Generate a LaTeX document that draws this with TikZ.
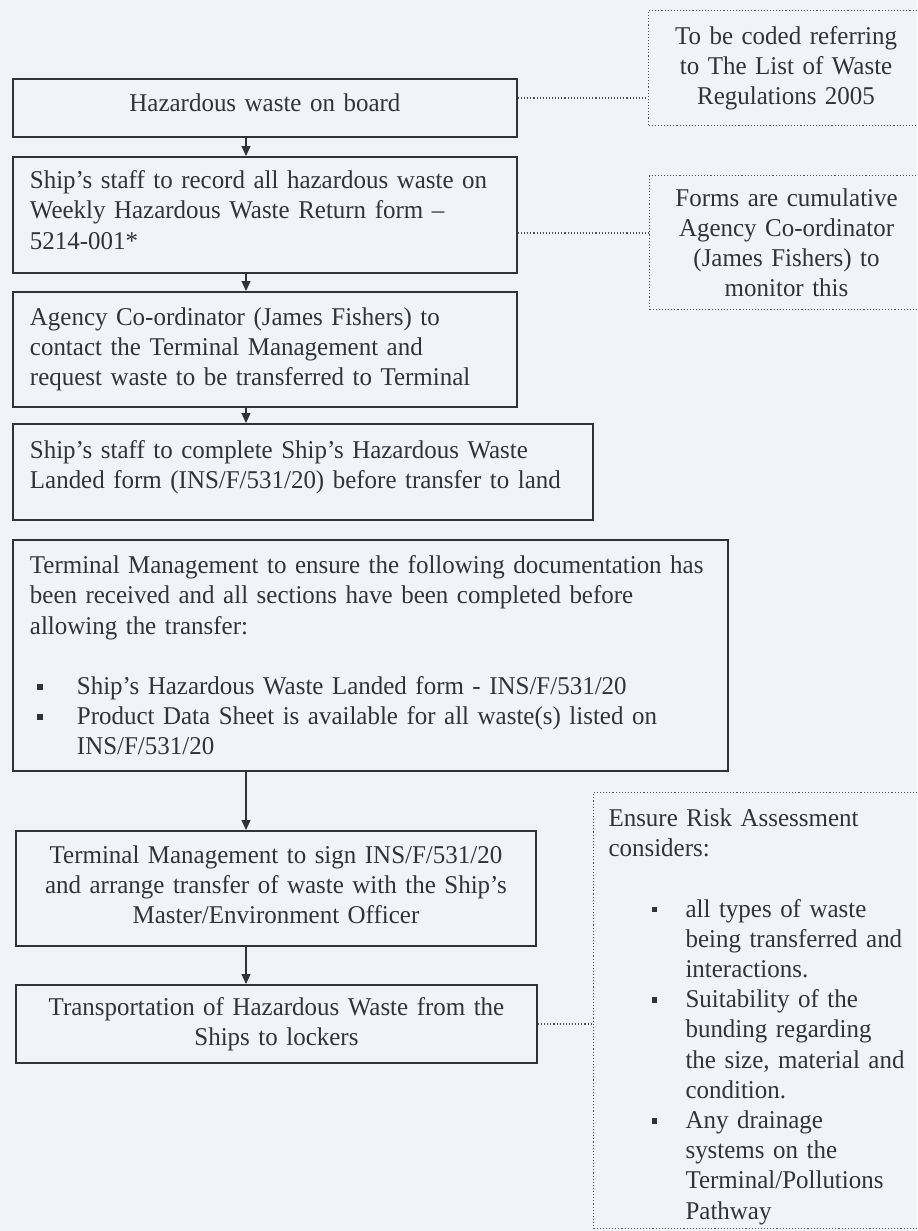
\documentclass[tikz,border=0pt]{standalone}
\usepackage{fontspec}
\setmainfont[FakeStretch=0.975]{Liberation Serif}
\usetikzlibrary{arrows.meta, positioning, calc}

\definecolor{paper}{RGB}{242,243,248}
\definecolor{ink}{RGB}{50,50,56}

% small square bullet
\newcommand{\sqbul}{\rule[2.4pt]{2.8pt}{2.8pt}}

\begin{document}
\begin{tikzpicture}[x=0.5pt, y=-0.5pt,
      font=\fontsize{12.8}{15.1}\selectfont, text=ink,
      stepbox/.style={rectangle, draw=ink, line width=0.95pt, inner xsep=8.5pt, inner ysep=0pt, anchor=north west},
      notebox/.style={rectangle, draw=ink!85, densely dotted, line width=0.55pt, inner xsep=7.5pt, inner ysep=0pt, anchor=north west},
      arrow/.style={-{Triangle[width=4.5pt,length=5pt]}, line width=0.6pt, draw=ink},
      link/.style={densely dotted, line width=0.55pt, draw=ink!85}
    ]
    \fill[paper] (0,0) rectangle (917,1231);
    \useasboundingbox (0,0) rectangle (917,1231);

    \coordinate (ax) at (246,0);

    % main steps
    \node[stepbox, text width=235pt, minimum height=29pt, align=center] (board) at (12,78) {Hazardous waste on board\\[-10pt]\mbox{}};
    \node[stepbox, text width=235pt, minimum height=58pt, align=left] (record) at (12,156)
      {Ship's staff to record all hazardous waste on\\Weekly Hazardous Waste Return form --\\5214-001*\\[-10pt]\mbox{}};
    \node[stepbox, text width=235pt, minimum height=57.5pt, align=left] (contact) at (12,291)
      {Agency Co-ordinator (James Fishers) to\\contact the Terminal Management and\\request waste to be transferred to Terminal};
    \node[stepbox, text width=273pt, minimum height=48pt, align=left] (landed) at (12,423)
      {Ship's staff to complete Ship's Hazardous Waste\\Landed form (INS/F/531/20) before transfer to land\\[-8pt]\mbox{}};
    \node[stepbox, text width=340.5pt, minimum height=115.5pt, align=left] (docs) at (12,539)
      {Terminal Management to ensure the following documentation has\\been received and all sections have been completed before\\allowing the transfer:\\[15.1pt]
       \hspace*{3.5pt}\makebox[20pt][l]{\sqbul}Ship's Hazardous Waste Landed form - INS/F/531/20\\
       \hspace*{3.5pt}\makebox[20pt][l]{\sqbul}Product Data Sheet is available for all waste(s) listed on\\
       \hspace*{23.5pt}INS/F/531/20};
    \node[stepbox, text width=243pt, minimum height=57.5pt, align=center] (sign) at (15,830)
      {Terminal Management to sign INS/F/531/20\\and arrange transfer of waste with the Ship's\\Master/Environment Officer\\[-11pt]\mbox{}};
    \node[stepbox, text width=243.5pt, minimum height=39pt, align=center] (lockers) at (15,984)
      {Transportation of Hazardous Waste from the\\Ships to lockers};

    % side notes
    \node[notebox, text width=122.5pt, minimum height=57.5pt, align=center] (coding) at (648,10)
      {To be coded referring\\to The List of Waste\\Regulations 2005};
    \node[notebox, text width=122pt, minimum height=67pt, align=center] (forms) at (649,175)
      {Forms are cumulative\\Agency Co-ordinator\\(James Fishers) to\\monitor this};
    \node[notebox, text width=160pt, minimum height=218pt, align=left] (risk) at (593,792)
      {\rule{0pt}{15pt}Ensure Risk Assessment\\considers:\\[15.1pt]
       \hspace*{21.5pt}\makebox[17pt][l]{\sqbul}all types of waste\\
       \hspace*{38.5pt}being transferred and\\
       \hspace*{38.5pt}interactions.\\
       \hspace*{21.5pt}\makebox[17pt][l]{\sqbul}Suitability of the\\
       \hspace*{38.5pt}bunding regarding\\
       \hspace*{38.5pt}the size, material and\\
       \hspace*{38.5pt}condition.\\
       \hspace*{21.5pt}\makebox[17pt][l]{\sqbul}Any drainage\\
       \hspace*{38.5pt}systems on the\\
       \hspace*{38.5pt}Terminal/Pollutions\\
       \hspace*{38.5pt}Pathway};

    % flow arrows
    \draw[arrow] (board.south -| ax) -- (record.north -| ax);
    \draw[arrow] (record.south -| ax) -- (contact.north -| ax);
    \draw[arrow] (contact.south -| ax) -- (landed.north -| ax);
    \draw[arrow] (docs.south -| ax) -- (sign.north -| ax);
    \draw[arrow] (sign.south -| ax) -- (lockers.north -| ax);

    % dotted links to notes
    \draw[link] ([yshift=5pt]board.east) -- ([yshift=5pt]board.east -| coding.west);
    \draw[link] ([yshift=-9pt]record.east) -- ([yshift=-9pt]record.east -| forms.west);
    \draw[link] (lockers.east) -- (lockers.east -| risk.west);
  \end{tikzpicture}
\end{document}
